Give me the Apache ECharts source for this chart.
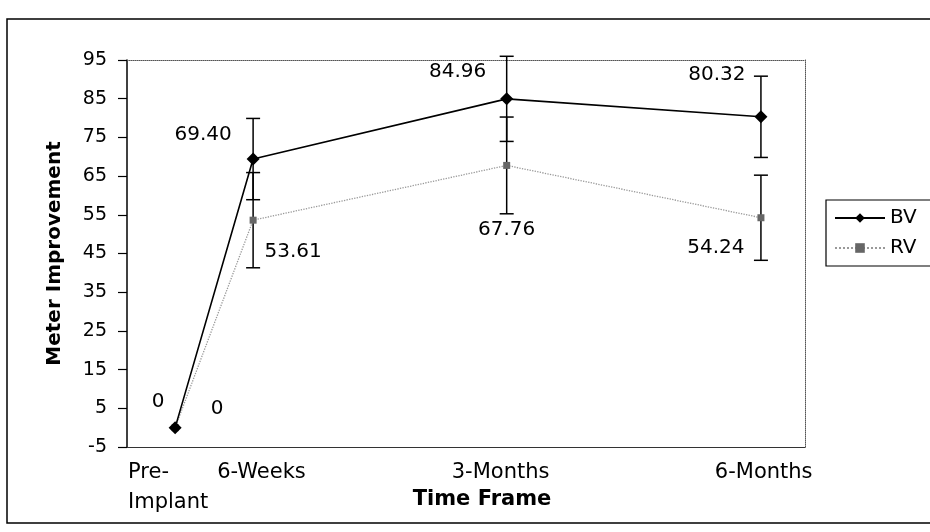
<!DOCTYPE html>
<html>
<head>
<meta charset="utf-8">
<script src="https://cdn.jsdelivr.net/npm/echarts@6/dist/echarts.min.js"></script>
<style>
  html, body { margin: 0; padding: 0; background: #fff; }
  #main { width: 930px; height: 532px; }
</style>
</head>
<body>
<div id="main"></div>
<script>
// data
var timeFrames = ['Pre-\nImplant', '6-Weeks', '3-Months', '6-Months'];
var bvMean = [0, 69.40, 84.96, 80.32];
var rvMean = [0, 53.61, 67.76, 54.24];
var bvErr = [0, 10.5, 11, 10.5];
var rvErr = [0, 12.3, 12.5, 11];
var yTicks = [-5, 5, 15, 25, 35, 45, 55, 65, 75, 85, 95];

// layout: where the time points / their labels sit across the plot (0..100)
var pointAt = [7.1, 18.6, 56.0, 93.5];
var labelAt = [0.15, 13.3, 47.9, 86.7];
var bvLabelOff = [[-17, -26], [-50, -24], [-49, -27], [-44, -42]];
var rvLabelOff = [[42, -19], [40, 32], [0, 64], [-45, 30]];

var FONT = 'DejaVu Sans';

function fmt(v) {
  return v === 0 ? '0' : v.toFixed(2);
}

function pointData(means, offs) {
  var out = [];
  for (var i = 0; i < means.length; i++) {
    out.push({
      value: [pointAt[i], means[i]],
      label: { offset: offs[i] }
    });
  }
  return out;
}

function errData(means, errs) {
  var out = [];
  for (var i = 0; i < means.length; i++) {
    if (errs[i] > 0) out.push([pointAt[i], means[i] - errs[i], means[i] + errs[i]]);
  }
  return out;
}

function errorBars(params, api) {
  var x = api.value(0);
  var lo = api.coord([x, api.value(1)]);
  var hi = api.coord([x, api.value(2)]);
  var w = 7;
  var st = { stroke: '#000', lineWidth: 1.5 };
  return {
    type: 'group',
    children: [
      { type: 'line', shape: { x1: lo[0], y1: lo[1], x2: hi[0], y2: hi[1] }, style: st },
      { type: 'line', shape: { x1: lo[0] - w, y1: lo[1], x2: lo[0] + w, y2: lo[1] }, style: st },
      { type: 'line', shape: { x1: hi[0] - w, y1: hi[1], x2: hi[0] + w, y2: hi[1] }, style: st }
    ]
  };
}

var chart = echarts.init(document.getElementById('main'), null, { renderer: 'canvas' });

var option = {
  backgroundColor: '#fff',
  animation: false,
  textStyle: { fontFamily: FONT, color: '#000' },
  graphic: [{
    type: 'rect',
    shape: { x: 7, y: 19, width: 940, height: 504 },
    style: { fill: 'none', stroke: '#000', lineWidth: 1.5 },
    silent: true
  }],
  grid: { left: 127, right: 125, top: 60, bottom: 85, outerBoundsMode: 'none' },
  legend: {
    orient: 'vertical',
    left: 826,
    top: 200,
    itemWidth: 50,
    itemHeight: 12,
    itemGap: 10,
    padding: [8, 14, 8, 8],
    borderColor: '#000',
    borderWidth: 1.2,
    textStyle: { fontFamily: FONT, fontSize: 20, color: '#000' },
    data: ['BV', 'RV']
  },
  xAxis: [{
    type: 'value',
    min: 0,
    max: 100,
    name: 'Time Frame',
    nameLocation: 'middle',
    nameGap: 42,
    nameMoveOverlap: false,
    nameTextStyle: { fontFamily: FONT, fontSize: 21, fontWeight: 'bold', color: '#000', padding: [0, 0, 0, 32] },
    axisLine: { show: true, onZero: false, lineStyle: { color: '#333', width: 1.2 } },
    axisTick: { show: false },
    splitLine: { show: false },
    axisLabel: {
      customValues: labelAt,
      align: 'left',
      margin: 11,
      fontFamily: FONT,
      fontSize: 21,
      lineHeight: 30,
      color: '#000',
      formatter: function (v) {
        var i = labelAt.indexOf(v);
        return i >= 0 ? timeFrames[i] : '';
      }
    }
  }, {
    type: 'value',
    position: 'top',
    min: 0,
    max: 100,
    axisLine: { show: true, onZero: false, lineStyle: { color: '#555', width: 1, type: 'dotted' } },
    axisTick: { show: false },
    axisLabel: { show: false },
    splitLine: { show: false }
  }],
  yAxis: [{
    type: 'value',
    min: -5,
    max: 95,
    name: 'Meter Improvement',
    nameLocation: 'middle',
    nameGap: 62,
    nameMoveOverlap: false,
    nameTextStyle: { fontFamily: FONT, fontSize: 20, fontWeight: 'bold', color: '#000' },
    axisLine: { show: true, onZero: false, lineStyle: { color: '#000', width: 1.5 } },
    axisTick: { show: true, customValues: yTicks, length: 9, lineStyle: { color: '#000', width: 1.2 } },
    splitLine: { show: false },
    axisLabel: {
      customValues: yTicks,
      margin: 20,
      fontFamily: FONT,
      fontSize: 19,
      color: '#000'
    }
  }, {
    type: 'value',
    position: 'right',
    min: -5,
    max: 95,
    axisLine: { show: true, onZero: false, lineStyle: { color: '#555', width: 1, type: 'dotted' } },
    axisTick: { show: false },
    axisLabel: { show: false },
    splitLine: { show: false }
  }],
  series: [{
    name: 'BV errors',
    type: 'custom',
    renderItem: errorBars,
    clip: false,
    z: 1,
    data: errData(bvMean, bvErr)
  }, {
    name: 'RV errors',
    type: 'custom',
    renderItem: errorBars,
    clip: false,
    z: 1,
    data: errData(rvMean, rvErr)
  }, {
    name: 'BV',
    type: 'line',
    z: 3,
    symbol: 'diamond',
    symbolSize: 13,
    itemStyle: { color: '#000' },
    lineStyle: { color: '#000', width: 1.6 },
    label: {
      show: true,
      position: 'inside',
      fontFamily: FONT,
      fontSize: 20,
      color: '#000',
      formatter: function (p) { return fmt(p.value[1]); }
    },
    data: pointData(bvMean, bvLabelOff)
  }, {
    name: 'RV',
    type: 'line',
    z: 2,
    symbol: 'rect',
    symbolSize: 7,
    itemStyle: { color: '#666' },
    lineStyle: { color: '#999', width: 1.3, type: 'dotted' },
    label: {
      show: true,
      position: 'inside',
      fontFamily: FONT,
      fontSize: 20,
      color: '#000',
      formatter: function (p) { return fmt(p.value[1]); }
    },
    data: pointData(rvMean, rvLabelOff)
  }]
};

chart.setOption(option);
</script>
</body>
</html>
